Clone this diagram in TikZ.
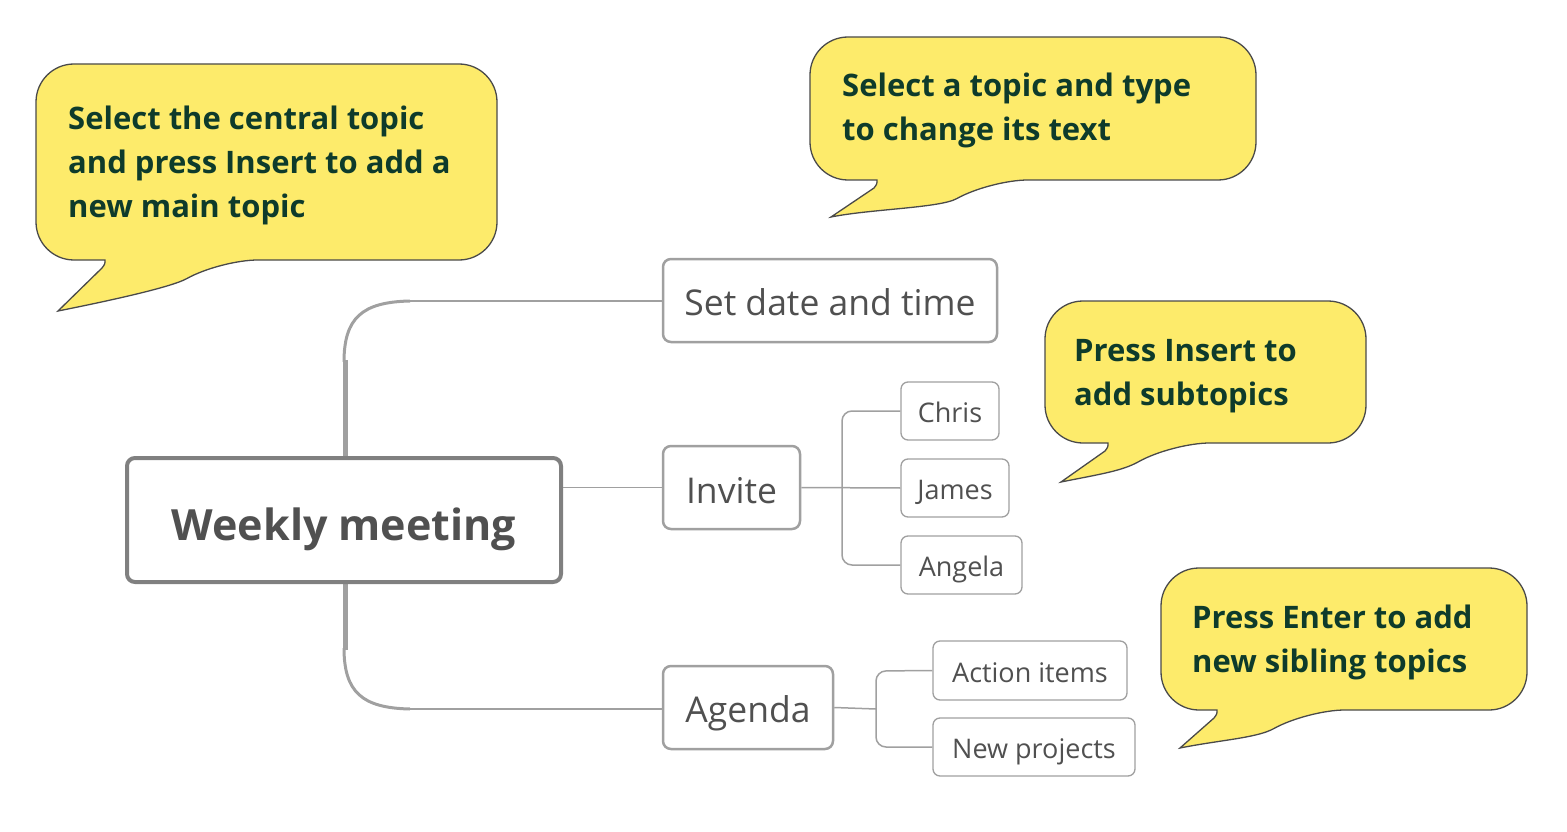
\documentclass[tikz,border=0pt]{standalone}
\usepackage{fontspec}
\setmainfont{Open Sans}
\definecolor{yel}{HTML}{FDEB6B}
\definecolor{brd}{HTML}{4A4A4A}
\definecolor{tgreen}{HTML}{0E3B2B}
\definecolor{tgray}{HTML}{505050}
\definecolor{lgray}{HTML}{A0A0A0}
\begin{document}
\begin{tikzpicture}[x=1pt,y=-1pt,
  box/.style={draw=lgray,line width=2.5pt,rounded corners=8pt,fill=white,text=tgray,inner sep=0pt,text depth=0pt},
  sub/.style={draw=lgray,line width=1.3pt,rounded corners=7pt,fill=white,text=tgray,inner sep=0pt,font=\fontsize{27}{30}\selectfont,text height=23pt,text depth=0pt},
  con/.style={draw=lgray,line width=1.5pt},
  tip/.style={text=tgreen,font=\fontsize{31}{44}\bfseries\selectfont,align=left,anchor=north west,inner sep=0pt},
  bub/.style={fill=yel,draw=brd,line width=1.3pt}]
\useasboundingbox (0,0) rectangle (1567,832);
\newcommand\mycallout[8]{%
 \path[bub,rounded corners=38pt] (#5,#4) -- (#1,#4) -- (#1,#2) -- (#3,#2) -- (#3,#4) -- (#8,#4)
  [sharp corners] .. controls ({#8-50},{#4+28}) and ({#6+40},{#7-8}) .. (#6,#7)
  -- ({#5-3},{#4+8}) .. controls ({#5},{#4+4}) .. (#5,#4) -- cycle;}
% connectors
\draw[lgray,line width=5pt] (345,460) -- (345,360);
\draw[lgray,line width=5pt] (345,580) -- (345,650);
\draw[lgray,line width=3pt] (344,362) .. controls (344,318) and (362,302) .. (410,301);
\draw[lgray,line width=3pt] (344,648) .. controls (344,692) and (362,708) .. (410,709);
\draw[con] (408,301) -- (663,301);
\draw[con] (408,709) -- (663,709);
% central
\node[box,line width=4pt,draw=gray,minimum width=434pt,minimum height=124pt,text height=40pt,font=\fontsize{43}{50}\bfseries\selectfont] (c) at (344,520) {Weekly meeting};
\node[box,minimum width=334pt,minimum height=83pt,text height=29pt,font=\fontsize{35.5}{40}\selectfont] (s) at (830,300.5) {Set date and time};
\node[box,minimum width=137pt,minimum height=83pt,text height=31pt,font=\fontsize{35.5}{40}\selectfont] (i) at (731.5,487.5) {Invite};
\node[box,minimum width=170pt,minimum height=83pt,text height=29pt,font=\fontsize{35.5}{40}\selectfont] (a) at (748,707.5) {Agenda};
\draw[con] (c.east |- i) -- (i.west);
% subtopics
\node[sub,minimum width=98pt,minimum height=58pt] (ch) at (950,411) {Chris};
\node[sub,minimum width=108pt,minimum height=58pt] (ja) at (955,488) {James};
\node[sub,minimum width=121pt,minimum height=58pt] (an) at (961.5,565) {Angela};
\node[sub,minimum width=194pt,minimum height=59pt] (ai) at (1030,670.5) {Action items};
\node[sub,minimum width=202pt,minimum height=58pt] (np) at (1034,747) {New projects};
\draw[con] (i.east) -- (ja.west);
\draw[con,rounded corners=10pt] (ch.west) -- (842,411) -- (842,565) -- (an.west);
\draw[con] (a.east) -- (876,709);
\draw[con,rounded corners=10pt] (ai.west) -- (876,671) -- (876,747) -- (np.west);
% callouts
\mycallout{36}{64}{497}{260}{105}{58}{311}{220}
\node[tip] (t1) at (68,106) {Select the central topic\\and press Insert to add a\\new main topic};
\mycallout{810}{37}{1256}{180}{877}{831}{217}{990}
\node[tip] (t2) at (842,73) {Select a topic and type\\to change its text};
\mycallout{1045}{301}{1366}{443}{1108}{1061}{482}{1172}
\node[tip] (t3) at (1074,339) {Press Insert to\\add subtopics};
\mycallout{1161}{568}{1527}{710}{1217}{1180}{748}{1307}
\node[tip] (t4) at (1192,605) {Press Enter to add\\new sibling topics};
\end{tikzpicture}
\end{document}
